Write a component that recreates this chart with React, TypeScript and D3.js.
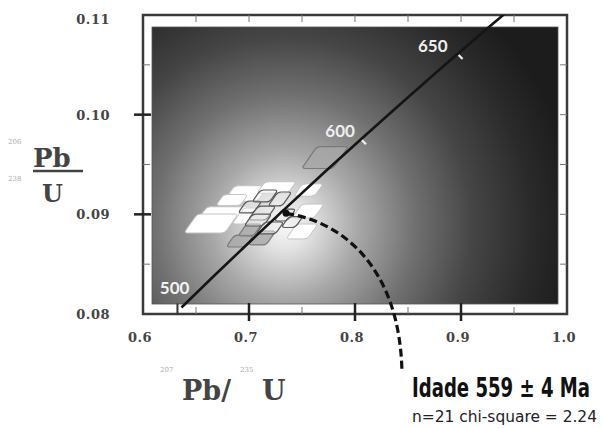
import * as d3 from 'd3';

// concordia (ages in Ma) and its ratios
const concAge = [500, 520, 540, 560, 580, 600, 620, 640, 650, 660, 680];
const concX = [0.63628, 0.66883, 0.70203, 0.73588, 0.77041, 0.80563, 0.84155, 0.87818, 0.89677, 0.91555, 0.95365];
const concY = [0.08065, 0.08401, 0.08738, 0.09075, 0.09414, 0.09754, 0.10095, 0.10438, 0.10609, 0.10781, 0.11125];

const markAges = [500, 600, 650];
const markLabels = ['500', '600', '650'];

// analyses: 207Pb/235U, 206Pb/238U, 2s errors, drawing type
const spotX = [0.6972, 0.7259, 0.7561, 0.6759, 0.6642, 0.7009, 0.7123, 0.7085, 0.7557, 0.7500, 0.6915,
  0.7123, 0.6962, 0.7292, 0.7717, 0.7340, 0.7198, 0.6840, 0.7151, 0.7406, 0.7009];
const spotY = [0.09209, 0.09269, 0.09244, 0.09018, 0.08908, 0.09074, 0.09013, 0.08943, 0.09033, 0.08828, 0.08732,
  0.08763, 0.08983, 0.09154, 0.09570, 0.08993, 0.08863, 0.09144, 0.09184, 0.08923, 0.08843];
const spotEx = [0.0210, 0.0185, 0.0138, 0.0232, 0.0255, 0.0112, 0.0130, 0.0130, 0.0150, 0.0150, 0.0130,
  0.0130, 0.0122, 0.0112, 0.0220, 0.0102, 0.0130, 0.0150, 0.0122, 0.0102, 0.0112];
const spotEy = [0.00078, 0.00058, 0.00062, 0.00058, 0.00095, 0.0006, 0.0007, 0.0006, 0.0007, 0.00075, 0.0006,
  0.0007, 0.0008, 0.0007, 0.00110, 0.0006, 0.0006, 0.00055, 0.0006, 0.00055, 0.0006];
const spotKind = ['w', 'w', 'w', 'w', 'w', 'o', 'o', 'o', 'w', 'w', 'g',
  'g', 'w', 'o', 'g', 'o', 'o', 'w', 'o', 'o', 'g'];

const xTicks = [0.6, 0.7, 0.8, 0.9, 1.0];
const xTickLabels = ['0.6', '0.7', '0.8', '0.9', '1.0'];
const yTicks = [0.08, 0.09, 0.1, 0.11];
const yTickLabels = ['0.08', '0.09', '0.10', '0.11'];

const ageText = 'Idade 559 \u00b1 4 Ma';
const statText = 'n=21  chi-square = 2.24';

// leader from the mean point to the age text (data units)
const leaderX = [0.735, 0.7906, 0.8425, 0.8443];
const leaderY = [0.0901, 0.08923, 0.08441, 0.07418];

const W = 602;
const H = 428;

function roundedPoly(pts: [number, number][], r: number) {
  const n = pts.length;
  let d = '';
  for (let i = 0; i < n; i++) {
    const p0 = pts[(i - 1 + n) % n];
    const p1 = pts[i];
    const p2 = pts[(i + 1) % n];
    const l1 = Math.hypot(p1[0] - p0[0], p1[1] - p0[1]);
    const l2 = Math.hypot(p2[0] - p1[0], p2[1] - p1[1]);
    const r1 = Math.min(r, l1 / 2), r2 = Math.min(r, l2 / 2);
    const a = [p1[0] + (p0[0] - p1[0]) * r1 / l1, p1[1] + (p0[1] - p1[1]) * r1 / l1];
    const b = [p1[0] + (p2[0] - p1[0]) * r2 / l2, p1[1] + (p2[1] - p1[1]) * r2 / l2];
    d += (i === 0 ? 'M' : 'L') + a[0] + ',' + a[1] + 'Q' + p1[0] + ',' + p1[1] + ' ' + b[0] + ',' + b[1];
  }
  return d + 'Z';
}

export default function App() {
  const x = d3.scaleLinear().domain([0.6, 1.0]).range([143, 567]);
  const y = d3.scaleLinear().domain([0.08, 0.11]).range([314, 15]);
  const [x0, x1] = x.range();
  const [y0, y1] = y.range();
  const inset = { l: 9, t: 12, r: 9, b: 10 };

  const conc = concAge.map((_a, i) => [x(concX[i]), y(concY[i])] as [number, number]);
  const concPath = d3.line().curve(d3.curveMonotoneX)(conc) ?? '';

  const leader = `M${x(leaderX[0])},${y(leaderY[0])} C${x(leaderX[1])},${y(leaderY[1])} ${x(leaderX[2])},${y(leaderY[2])} ${x(leaderX[3])},${y(leaderY[3])}`;

  const spots = spotX.map((sx, i) => {
    const cx = x(sx), cy = y(spotY[i]);
    const bw = x(sx + spotEx[i]) - cx;
    const bh = cy - y(spotY[i] + spotEy[i]);
    const s = bh * 0.7;
    const w = Math.max(bw - s, 2);
    const pts: [number, number][] = [
      [cx - w + s, cy - bh], [cx + w + s, cy - bh], [cx + w - s, cy + bh], [cx - w - s, cy + bh],
    ];
    return { d: roundedPoly(pts, 3.5), kind: spotKind[i], i };
  });

  const spotStyle: Record<string, { fill: string; op: number; stroke: string; sw: number }> = {
    g: { fill: '#a8a8a8', op: 0.8, stroke: '#7a7a7a', sw: 1.2 },
    w: { fill: '#ffffff', op: 1, stroke: '#c4c4c4', sw: 1 },
    o: { fill: '#eeeeee', op: 0.45, stroke: '#5a5a5a', sw: 1.2 },
  };
  const order = ['g', 'w', 'o'];

  // label offsets for the age marks (px)
  const labelOff = [[8, -14], [-6, -2], [-10, -2]];

  const ageIdx = (age: number) => concAge.indexOf(age);

  const serif = "'DejaVu Serif', 'Liberation Serif', serif";
  const narrow = "'DejaVu Sans Condensed', 'Liberation Sans Narrow', sans-serif";

  return (
    <svg width={W} height={H} style={{ position: 'absolute', left: 0, top: 0, background: '#fff' }}>
      <defs>
        <radialGradient id="bg" gradientUnits="userSpaceOnUse" cx={285} cy={225} r={290}>
          <stop offset="0" stopColor="#f8f8f8" />
          <stop offset="0.08" stopColor="#e4e4e4" />
          <stop offset="0.25" stopColor="#a8a8a8" />
          <stop offset="0.45" stopColor="#707070" />
          <stop offset="0.65" stopColor="#454545" />
          <stop offset="0.85" stopColor="#2a2a2a" />
          <stop offset="1" stopColor="#1c1c1c" />
        </radialGradient>
        <clipPath id="box">
          <rect x={x0} y={y1} width={x1 - x0} height={y0 - y1} />
        </clipPath>
      </defs>

      {/* frame */}
      <rect x={x0} y={y1} width={x1 - x0} height={y0 - y1} fill="#fff" stroke="#3a3a3a" strokeWidth={2.5} />
      <rect x={x0 + inset.l} y={y1 + inset.t} width={x1 - x0 - inset.l - inset.r} height={y0 - y1 - inset.t - inset.b}
        fill="url(#bg)" stroke="#555" strokeWidth={0.8} />

      {/* minor inward ticks */}
      {d3.range(0.65, 0.999, 0.05).map((v) => (
        <g key={'mx' + v} stroke="#777" strokeWidth={1}>
          <line x1={x(v)} x2={x(v)} y1={y1} y2={y1 + 7} />
          <line x1={x(v)} x2={x(v)} y1={y0} y2={y0 - 7} />
        </g>
      ))}
      {d3.range(0.085, 0.1099, 0.005).map((v) => (
        <g key={'my' + v} stroke="#777" strokeWidth={1}>
          <line x1={x0} x2={x0 + 7} y1={y(v)} y2={y(v)} />
          <line x1={x1} x2={x1 - 7} y1={y(v)} y2={y(v)} />
        </g>
      ))}

      {/* major ticks */}
      {xTicks.slice(1, -1).map((v) => (
        <line key={'tx' + v} x1={x(v)} x2={x(v)} y1={y0 - 11} y2={y0 + 7} stroke="#222" strokeWidth={2.5} />
      ))}
      {yTicks.slice(1, -1).map((v) => (
        <line key={'ty' + v} x1={x0 - 9} x2={x0 + 8} y1={y(v)} y2={y(v)} stroke="#222" strokeWidth={2.5} />
      ))}

      {/* tick labels */}
      {xTicks.map((v, i) => (
        <text key={'lx' + v} x={x(v) - 3} y={y0 + 28} textAnchor="middle" fontFamily={serif} fontWeight="bold"
          fontSize={13} fill="#444" letterSpacing={0.5}>{xTickLabels[i]}</text>
      ))}
      {yTicks.map((v, i) => (
        <text key={'ly' + v} x={110} y={y(v) + 5 + (i === 3 ? 4 : 0)} textAnchor="end" fontFamily={serif}
          fontWeight="bold" fontSize={13} fill="#444" letterSpacing={0.5}>{yTickLabels[i]}</text>
      ))}

      {/* analyses */}
      <g>
        {order.flatMap((k) => spots.filter((s) => s.kind === k)).map((s) => {
          const st = spotStyle[s.kind];
          return (
            <path key={'s' + s.i} d={s.d} fill={st.fill} fillOpacity={st.op} stroke={st.stroke}
              strokeWidth={st.sw} strokeLinejoin="round" />
          );
        })}
      </g>

      {/* concordia */}
      <g clipPath="url(#box)">
        <path d={concPath} fill="none" stroke="#151515" strokeWidth={2.6} />
      </g>
      {markAges.map((age, i) => {
        const j = ageIdx(age);
        const px = x(concX[j]), py = y(concY[j]);
        return (
          <g key={'m' + age}>
            {i === 0 ? (
              <line x1={px - 4} x2={px - 4} y1={py - 4} y2={py + 6} stroke="#333" strokeWidth={2} />
            ) : (
              <line x1={px + 1} y1={py + 1} x2={px + 5} y2={py + 5} stroke="#eee" strokeWidth={2.2} />
            )}
            <text x={px + labelOff[i][0]} y={py + labelOff[i][1]} textAnchor="end" fontFamily="Lato, 'Open Sans', sans-serif"
              fontWeight="bold" fontSize={17} fill={i === 0 ? '#f2f2f2' : '#eeeeee'}>{markLabels[i]}</text>
          </g>
        );
      })}

      {/* leader to age */}
      <path d={leader} fill="none" stroke="#111" strokeWidth={3.2} strokeDasharray="8 4" />
      <circle cx={x(leaderX[0])} cy={y(leaderY[0])} r={3.5} fill="#111" />

      {/* axis titles */}
      <g fontFamily={serif} fontWeight="bold" fill="#444">
        <text x={8} y={144} fontSize={7} fill="#aaa" fontWeight="normal">206</text>
        <text x={33} y={167} fontSize={26}>Pb</text>
        <line x1={33} x2={83} y1={171} y2={171} stroke="#444" strokeWidth={2.5} />
        <text x={8} y={181} fontSize={7} fill="#aaa" fontWeight="normal">238</text>
        <text x={42} y={202} fontSize={24}>U</text>

        <text x={160} y={372} fontSize={7} fill="#aaa" fontWeight="normal">207</text>
        <text x={182} y={400} fontSize={27}>Pb/</text>
        <text x={240} y={372} fontSize={7} fill="#aaa" fontWeight="normal">235</text>
        <text x={262} y={400} fontSize={27}>U</text>
      </g>

      {/* age result, narrowed horizontally */}
      <g transform="translate(412,397) scale(0.72,1)">
        <text x={0} y={0} fontFamily={narrow} fontWeight="bold" fontSize={26} fill="#111"
          textLength={178 / 0.72} lengthAdjust="spacingAndGlyphs">{ageText}</text>
      </g>
      <g transform="translate(412,422) scale(0.72,1)">
        <text x={0} y={0} fontFamily={narrow} fontSize={16} fill="#222"
          textLength={185 / 0.72} lengthAdjust="spacingAndGlyphs">{statText}</text>
      </g>
    </svg>
  );
}
